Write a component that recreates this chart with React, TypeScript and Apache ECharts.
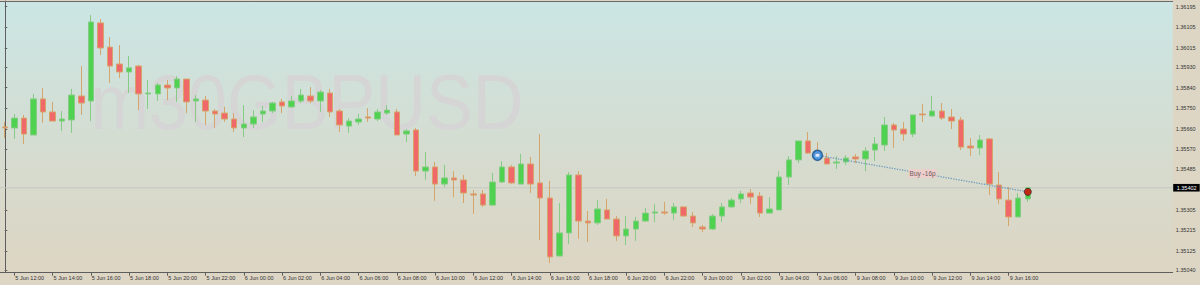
import React, { useEffect, useRef } from "react";
import * as echarts from "echarts";

// 30-minute candles, 5 Jun 11:30 → 9 Jun 17:00 (weekend skipped)
const opens = [
  1.35668, 1.35664, 1.35707, 1.35633, 1.35791, 1.35734, 1.35694, 1.35699, 1.35804, 1.35782,
  1.36124, 1.36018, 1.35944, 1.35909, 1.35935, 1.35813, 1.35813, 1.35852, 1.35839, 1.35878,
  1.35782, 1.35786, 1.35738, 1.35729, 1.35703, 1.35664, 1.35681, 1.35725, 1.35738, 1.35778,
  1.35756, 1.35782, 1.35804, 1.35782, 1.35817, 1.35738, 1.35672, 1.3569, 1.35712, 1.35703,
  1.35729, 1.35734, 1.35637, 1.35655, 1.35475, 1.35493, 1.35418, 1.35445, 1.35436, 1.35375,
  1.35375, 1.35326, 1.35427, 1.35493, 1.35418, 1.35506, 1.35423, 1.35357, 1.35103, 1.35204,
  1.35458, 1.35256, 1.35248, 1.35305, 1.35265, 1.35191, 1.35221, 1.35256, 1.35291, 1.35296,
  1.35291, 1.35318, 1.35278, 1.3523, 1.35221, 1.35278, 1.35318, 1.35353, 1.35379, 1.35366,
  1.35291, 1.35305, 1.35449, 1.35524, 1.35607, 1.35554, 1.35532, 1.3551, 1.35515, 1.35537,
  1.35528, 1.35567, 1.35589, 1.35677, 1.35659, 1.35637, 1.35725, 1.35716, 1.35738, 1.35712,
  1.35699, 1.35585, 1.35576, 1.35616, 1.35414, 1.35348, 1.35274, 1.35353,
];
const closes = [
  1.35664, 1.35707, 1.35637, 1.35791, 1.35734, 1.35694, 1.35703, 1.35808, 1.35773, 1.36128,
  1.36014, 1.35935, 1.35909, 1.35927, 1.35813, 1.35817, 1.35852, 1.35839, 1.35878, 1.35778,
  1.35791, 1.35738, 1.35725, 1.35703, 1.35664, 1.35681, 1.35712, 1.35738, 1.35773, 1.3576,
  1.35782, 1.35808, 1.35782, 1.35821, 1.35734, 1.35677, 1.35694, 1.35703, 1.35707, 1.35734,
  1.35742, 1.35633, 1.35651, 1.35475, 1.35493, 1.35418, 1.35445, 1.35436, 1.35379, 1.3537,
  1.35326, 1.35427, 1.35493, 1.35423, 1.35506, 1.35418, 1.35357, 1.35099, 1.35204, 1.35458,
  1.35256, 1.35248, 1.35309, 1.35265, 1.35191, 1.35221, 1.35256, 1.35291, 1.35296, 1.35291,
  1.35318, 1.35278, 1.35248, 1.35221, 1.35278, 1.35318, 1.35348, 1.35375, 1.35361, 1.35291,
  1.35309, 1.35449, 1.35524, 1.35607, 1.35554, 1.35541, 1.35506, 1.35515, 1.35532, 1.35528,
  1.35563, 1.35594, 1.35677, 1.35655, 1.35637, 1.35721, 1.35721, 1.35738, 1.35707, 1.35694,
  1.3558, 1.35576, 1.35611, 1.35418, 1.35353, 1.35274, 1.35357, 1.35402,
];
const lows = [
  1.3562, 1.35616, 1.35594, 1.35633, 1.35686, 1.35694, 1.35651, 1.35642, 1.35721, 1.35694,
  1.35983, 1.35861, 1.35883, 1.35817, 1.35742, 1.35747, 1.35782, 1.35786, 1.35778, 1.35729,
  1.3569, 1.35677, 1.35664, 1.3569, 1.35646, 1.35624, 1.35664, 1.3569, 1.35729, 1.35729,
  1.35751, 1.35773, 1.35773, 1.35734, 1.35712, 1.35646, 1.35642, 1.35677, 1.3569, 1.35694,
  1.35721, 1.35633, 1.35602, 1.35453, 1.35436, 1.35344, 1.35405, 1.35361, 1.35335, 1.35287,
  1.35318, 1.35322, 1.35423, 1.35418, 1.35418, 1.35379, 1.35173, 1.35072, 1.35103, 1.35156,
  1.35178, 1.35164, 1.35239, 1.35265, 1.35169, 1.35151, 1.35169, 1.35252, 1.35252, 1.35283,
  1.35261, 1.35278, 1.3523, 1.35208, 1.35217, 1.35252, 1.35313, 1.35335, 1.35331, 1.35274,
  1.35291, 1.35305, 1.35414, 1.3551, 1.3555, 1.35524, 1.35506, 1.35484, 1.35502, 1.3551,
  1.35475, 1.35519, 1.35563, 1.35576, 1.35607, 1.35624, 1.3569, 1.35716, 1.35699, 1.35659,
  1.35567, 1.35541, 1.35545, 1.3537, 1.35331, 1.35234, 1.35274, 1.3534,
];
const highs = [
  1.3569, 1.35725, 1.35721, 1.35813, 1.35839, 1.35778, 1.35738, 1.35835, 1.35935, 1.36159,
  1.36141, 1.36062, 1.36027, 1.35979, 1.3594, 1.35874, 1.35861, 1.35874, 1.35891, 1.35878,
  1.35808, 1.35804, 1.35747, 1.35756, 1.35729, 1.35764, 1.35742, 1.3576, 1.35778, 1.35791,
  1.35804, 1.35835, 1.35843, 1.3583, 1.35835, 1.35747, 1.35707, 1.35725, 1.35751, 1.35747,
  1.35764, 1.35747, 1.35659, 1.35664, 1.35559, 1.35515, 1.35502, 1.35475, 1.35458, 1.35392,
  1.35392, 1.35467, 1.35519, 1.35502, 1.3555, 1.35537, 1.35637, 1.35432, 1.35335, 1.35471,
  1.35475, 1.353, 1.35348, 1.35353, 1.35278, 1.35278, 1.35274, 1.35313, 1.35331, 1.3534,
  1.35335, 1.35318, 1.35296, 1.35239, 1.35287, 1.35335, 1.35357, 1.35388, 1.35397, 1.35383,
  1.35361, 1.35475, 1.35541, 1.35607, 1.35646, 1.35602, 1.35554, 1.35541, 1.35545, 1.3555,
  1.3558, 1.35624, 1.35712, 1.35686, 1.3569, 1.35721, 1.35769, 1.35804, 1.35773, 1.35747,
  1.35712, 1.3562, 1.35633, 1.3562, 1.35471, 1.35405, 1.35379, 1.35405,
];

// time axis labels, every 2 hours (first one falls on candle 1)
const timeLabels = [
  "5 Jun 12:00", "5 Jun 14:00", "5 Jun 16:00", "5 Jun 18:00", "5 Jun 20:00", "5 Jun 22:00",
  "6 Jun 00:00", "6 Jun 02:00", "6 Jun 04:00", "6 Jun 06:00", "6 Jun 08:00", "6 Jun 10:00",
  "6 Jun 12:00", "6 Jun 14:00", "6 Jun 16:00", "6 Jun 18:00", "6 Jun 20:00", "6 Jun 22:00",
  "9 Jun 00:00", "9 Jun 02:00", "9 Jun 04:00", "9 Jun 06:00", "9 Jun 08:00", "9 Jun 10:00",
  "9 Jun 12:00", "9 Jun 14:00", "9 Jun 16:00",
];
const priceTicks = [
  1.36195, 1.36105, 1.36015, 1.3593, 1.3584, 1.3575, 1.3566, 1.3557, 1.35485,
  1.35305, 1.35215, 1.35125, 1.3504,
];
const currentPrice = 1.35402;
const symbolName = "m30GBPUSD";

// the open trade
const tradeIndex = [85, 107];
const tradePrice = [1.35544, 1.35384];
const tradeLabel = "Buy -16p";

const FONT = "'Liberation Sans', Arial, sans-serif";

export default function App() {
  const ref = useRef<HTMLDivElement>(null);

  useEffect(() => {
    if (!ref.current) return;
    const chart = echarts.init(ref.current, null, { renderer: "svg" });

    const candleData = opens.map((o, i) => [i, o, closes[i], lows[i], highs[i]]);
    const tickIdx = timeLabels.map((_, k) => 1 + 4 * k);
    const xMin = -0.5;
    const xMax = 122.155;

    chart.setOption({
      animation: false,
      backgroundColor: "#ded6c5",
      grid: {
        left: 0,
        right: 27.3,
        top: 1,
        bottom: 12.3,
        show: true,
        borderWidth: 0,
        backgroundColor: new echarts.graphic.LinearGradient(0, 0, 0, 1, [
          { offset: 0, color: "#cbe6e5" },
          { offset: 0.55, color: "#d5dcd0" },
          { offset: 1, color: "#ddd5c3" },
        ]),
      },
      xAxis: [
        {
          type: "value",
          min: xMin,
          max: xMax,
          position: "bottom",
          splitLine: { show: false },
          axisLine: { show: true, lineStyle: { color: "#5e5e5e", width: 1 } },
          axisTick: {
            show: true,
            customValues: tickIdx,
            length: 3,
            lineStyle: { color: "#5e5e5e" },
          },
          axisLabel: {
            show: true,
            customValues: tickIdx,
            formatter: (v: number) => timeLabels[Math.round((v - 1) / 4)] ?? "",
            align: "left",
            margin: 2.5,
            fontSize: 5.5,
            fontFamily: FONT,
            color: "#333",
            padding: [0, 0, 0, 1],
          },
        },
        {
          type: "value",
          min: xMin,
          max: xMax,
          position: "top",
          splitLine: { show: false },
          axisLine: { show: true, lineStyle: { color: "#6a6a6a", width: 1 } },
          axisTick: { show: false },
          axisLabel: { show: false },
        },
      ],
      yAxis: {
        type: "value",
        position: "right",
        min: 1.350299,
        max: 1.362199,
        splitLine: { show: false },
        axisLine: { show: true, lineStyle: { color: "#5e5e5e", width: 1 } },
        axisTick: {
          show: true,
          customValues: priceTicks,
          length: 2.5,
          lineStyle: { color: "#5e5e5e" },
        },
        axisLabel: {
          show: true,
          customValues: priceTicks,
          formatter: (v: number) => v.toFixed(5),
          margin: 3,
          fontSize: 5.5,
          fontFamily: FONT,
          color: "#333",
        },
      },
      series: [
        {
          type: "line",
          silent: true,
          data: [
            [xMin, currentPrice],
            [xMax, currentPrice],
          ],
          symbol: "none",
          lineStyle: { color: "#c4cac2", type: "solid", width: 1 },
          z: 1,
        },
        {
          type: "candlestick",
          xAxisIndex: 0,
          data: candleData,
          encode: { x: 0, y: [1, 2, 3, 4] },
          barWidth: 6,
          silent: true,
          itemStyle: {
            color: "#4fd24f",
            color0: "#f06868",
            borderColor: "#86cc86",
            borderColor0: "#d6a56c",
            borderWidth: 1,
          },
          z: 2,
        },
        {
          type: "line",
          silent: true,
          data: tradeIndex.map((x, k) => [x, tradePrice[k]]),
          symbol: "none",
          lineStyle: { color: "#6f9bbd", type: "dotted", width: 1.3 },
          z: 3,
        },
        {
          type: "scatter",
          silent: true,
          data: [[tradeIndex[0], tradePrice[0]]],
          symbol: "circle",
          symbolSize: 10,
          itemStyle: { color: "#2d8ff0", borderColor: "#1d4f86", borderWidth: 1.5 },
          z: 4,
        },
        {
          type: "scatter",
          silent: true,
          data: [[tradeIndex[0], tradePrice[0]]],
          symbol: "rect",
          symbolSize: [4, 3],
          itemStyle: { color: "#ffffff" },
          z: 5,
        },
        {
          type: "scatter",
          silent: true,
          data: [[tradeIndex[1], tradePrice[1]]],
          symbol: "circle",
          symbolSize: 7,
          itemStyle: { color: "#e00000", borderColor: "#3a2020", borderWidth: 1 },
          z: 4,
        },
        {
          type: "scatter",
          silent: true,
          data: [
            [
              (tradeIndex[0] + tradeIndex[1]) / 2,
              (tradePrice[0] + tradePrice[1]) / 2,
            ],
          ],
          symbolSize: 0,
          label: {
            show: true,
            position: "inside",
            formatter: () => tradeLabel,
            backgroundColor: "#f2cccb",
            color: "#4a3a3a",
            fontSize: 6.5,
            fontFamily: FONT,
            padding: [1, 1, 1, 1],
          },
          z: 5,
        },
      ],
    });

    // watermark and current-price tag, placed through the chart's own scales
    const py = chart.convertToPixel({ yAxisIndex: 0 }, currentPrice) as number;
    const px = chart.convertToPixel({ xAxisIndex: 0 }, xMax) as number;
    chart.setOption({
      graphic: [
        {
          id: "watermark",
          type: "text",
          x: 90.5,
          y: 102,
          scaleX: 0.9,
          z: 1,
          silent: true,
          style: {
            text: symbolName,
            x: 0,
            y: 0,
            fill: "#d5d5d5",
            font: `78px ${FONT}`,
            verticalAlign: "middle",
            align: "left",
          },
        },
        {
          id: "priceTag",
          type: "group",
          x: px + 0.5,
          y: py,
          z: 10,
          silent: true,
          children: [
            {
              type: "rect",
              shape: { x: 0, y: -3.8, width: 26.5, height: 7.6 },
              style: { fill: "#000" },
            },
            {
              type: "text",
              style: {
                text: currentPrice.toFixed(5),
                x: 3.5,
                y: 0,
                fill: "#fff",
                font: `5.5px ${FONT}`,
                verticalAlign: "middle",
                align: "left",
              },
            },
          ],
        },
      ],
    });

    return () => chart.dispose();
  }, []);

  return (
    <div
      ref={ref}
      style={{ position: "absolute", left: 0, top: 0, width: 1200, height: 285 }}
    />
  );
}
